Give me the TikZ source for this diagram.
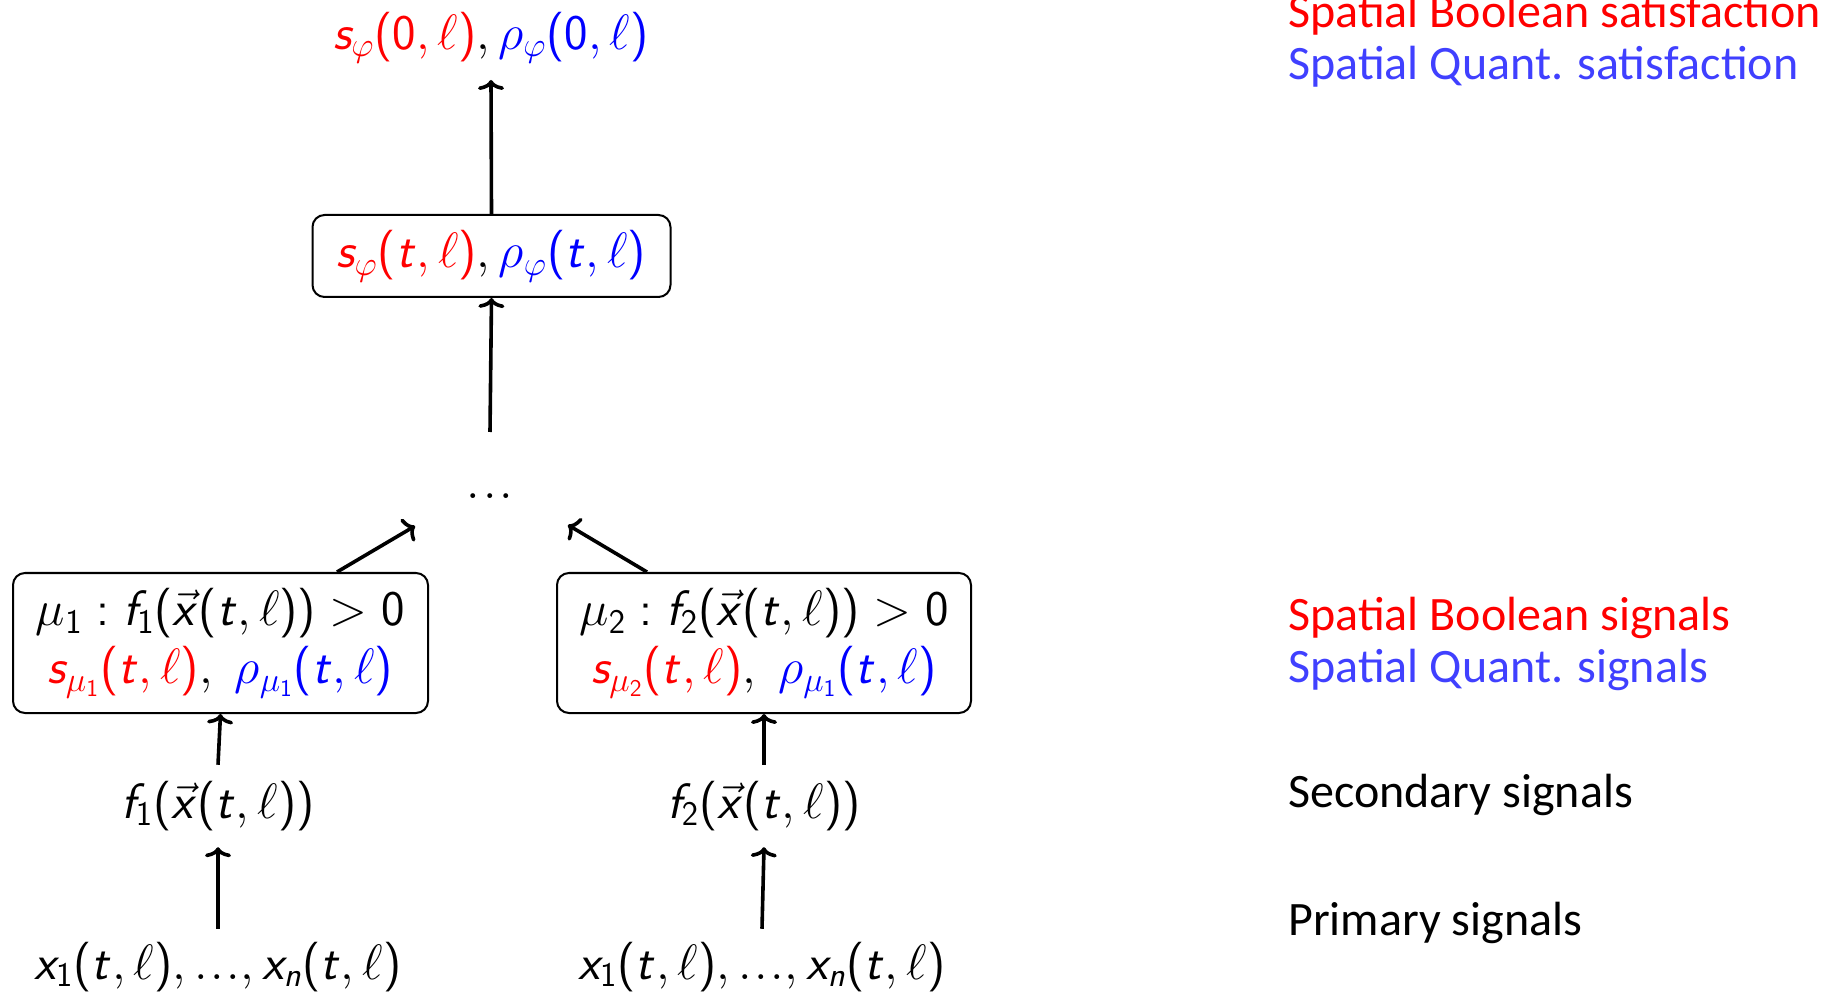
\documentclass[tikz,border=0pt]{standalone}
\usepackage[no-math]{fontspec}
\newfontfamily\carlito{Carlito}
\usetikzlibrary{arrows.meta}
\DeclareSymbolFont{sfops}{OT1}{cmss}{m}{n}
\DeclareSymbolFont{sflet}{OT1}{cmss}{m}{sl}
\DeclareMathSymbol{s}{\mathalpha}{sflet}{`s}
\DeclareMathSymbol{t}{\mathalpha}{sflet}{`t}
\DeclareMathSymbol{x}{\mathalpha}{sflet}{`x}
\DeclareMathSymbol{f}{\mathalpha}{sflet}{`f}
\DeclareMathSymbol{n}{\mathalpha}{sflet}{`n}
\DeclareMathSymbol{0}{\mathalpha}{sfops}{`0}
\DeclareMathSymbol{1}{\mathalpha}{sfops}{`1}
\DeclareMathSymbol{2}{\mathalpha}{sfops}{`2}
\DeclareMathSymbol{:}{\mathrel}{sfops}{`:}
\DeclareMathDelimiter{(}{\mathopen}{sfops}{`(}{largesymbols}{"00}
\DeclareMathDelimiter{)}{\mathclose}{sfops}{`)}{largesymbols}{"01}
\newcommand{\tdots}{\mathord{.}\mkern1mu\mathord{.}\mkern1mu\mathord{.}}
\definecolor{myred}{RGB}{255,0,0}
\definecolor{myblue}{RGB}{0,0,255}
\definecolor{lblblue}{RGB}{64,64,255}
\tikzset{
  mfont/.style={font=\fontsize{25}{29}\selectfont},
  rbox/.style={draw, line width=1pt, rounded corners=6pt, mfont, align=center, inner sep=0pt},
  plain/.style={mfont, inner xsep=2pt, inner ysep=8pt},
  arr/.style={line width=1.8pt, -{To[length=5pt,width=13pt]}},
  lbl/.style={font=\carlito\fontsize{24}{28}\selectfont, anchor=base west, inner sep=0pt},
}
\begin{document}
\begin{tikzpicture}[x=0.5pt,y=-0.5pt]
\useasboundingbox (0,0) rectangle (1832,994);
% top
\node[plain, anchor=south] (top) at (491,80)
  {$\textcolor{myred}{s_\varphi(0,\ell)},\textcolor{myblue}{\rho_\varphi(0,\ell)}$};
\node[rbox, minimum width=179pt, minimum height=41pt] (topbox) at (491.5,256)
  {$\textcolor{myred}{s_\varphi(t,\ell)},\textcolor{myblue}{\rho_\varphi(t,\ell)}$};
\node[mfont, inner sep=0pt] (dots) at (490,496) {$\tdots$};
\node[rbox, minimum width=207.5pt, minimum height=70pt] (mu1) at (220.5,643)
  {$\mu_1 : f_1(\vec{x}(t,\ell)) > 0$\\
   $\textcolor{myred}{s_{\mu_1}(t,\ell)},\;\textcolor{myblue}{\rho_{\mu_1}(t,\ell)}$};
\node[rbox, minimum width=207pt, minimum height=70pt] (mu2) at (764,643)
  {$\mu_2 : f_2(\vec{x}(t,\ell)) > 0$\\
   $\textcolor{myred}{s_{\mu_2}(t,\ell)},\;\textcolor{myblue}{\rho_{\mu_1}(t,\ell)}$};
\node[plain] (f1) at (218,806) {$f_1(\vec{x}(t,\ell))$};
\node[plain] (f2) at (764,806) {$f_2(\vec{x}(t,\ell))$};
\node[plain, inner ysep=6.5pt] (x1) at (218,967) {$x_1(t,\ell),\tdots,x_n(t,\ell)$};
\node[plain, inner ysep=6.5pt] (x2) at (762,967) {$x_1(t,\ell),\tdots,x_n(t,\ell)$};
\coordinate (dl) at (415,526);
\coordinate (dr) at (568,525);
% connectors
\draw[arr] (topbox.north) -- (top.south);
\draw[arr] ([yshift=32pt]dots.center) -- (topbox.south);
\draw[arr] ([xshift=58.25pt]mu1.north) -- (dl);
\draw[arr] ([xshift=-58.5pt]mu2.north) -- (dr);
\draw[arr] (f1.north) -- (mu1.south);
\draw[arr] (f2.north) -- (mu2.south);
\draw[arr] (x1.north) -- (f1.south);
\draw[arr] (x2.north) -- (f2.south);
% labels
\node[lbl, text=myred] (l1) at (1288,28) {Spatial Boolean satisfaction};
\node[lbl, text=lblblue] (l2) at (1288,80) {Spatial Quant. satisfaction};
\node[lbl, text=myred] (l3) at (1288,630) {Spatial Boolean signals};
\node[lbl, text=lblblue] (l4) at (1288,682) {Spatial Quant. signals};
\node[lbl] (l5) at (1288,807) {Secondary signals};
\node[lbl] (l6) at (1288,935) {Primary signals};
\end{tikzpicture}
\end{document}
